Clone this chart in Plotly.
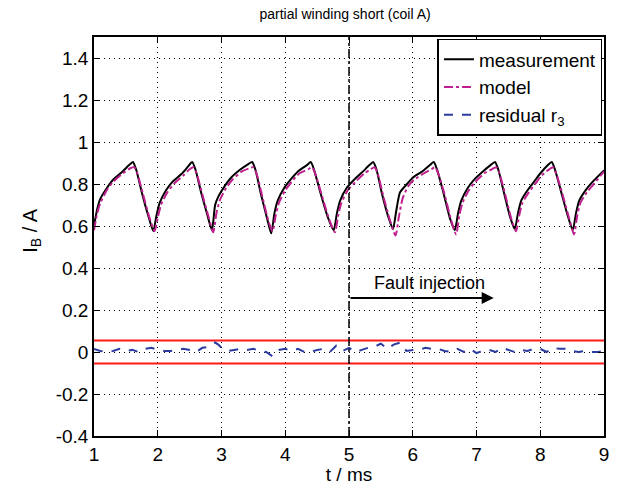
import plotly.graph_objects as go

# Measurement (black)
t_meas = [1.00,1.05,1.10,1.20,1.30,1.45,1.55,1.61,1.66,1.75,1.85,1.93,
          1.98,2.03,2.13,2.23,2.38,2.48,2.54,2.59,2.68,2.78,2.85,
          2.90,2.95,3.05,3.15,3.30,3.42,3.48,3.53,3.62,3.72,3.78,
          3.83,3.88,3.98,4.08,4.20,4.34,4.40,4.45,4.55,4.67,4.76,
          4.81,4.86,4.96,5.08,5.22,5.32,5.38,5.43,5.52,5.62,5.69,
          5.74,5.80,5.91,6.00,6.15,6.27,6.33,6.38,6.48,6.58,6.66,
          6.71,6.76,6.86,6.96,7.10,7.22,7.29,7.34,7.43,7.53,7.60,
          7.65,7.70,7.80,7.90,8.00,8.12,8.18,8.23,8.33,8.43,8.51,
          8.56,8.61,8.71,8.82,9.00]
i_meas = [0.60,0.68,0.73,0.78,0.82,0.86,0.89,0.905,0.87,0.76,0.65,0.575,
          0.65,0.71,0.77,0.81,0.85,0.885,0.905,0.87,0.76,0.65,0.58,
          0.70,0.74,0.79,0.83,0.87,0.895,0.905,0.87,0.75,0.63,0.565,
          0.66,0.72,0.78,0.82,0.86,0.89,0.905,0.87,0.76,0.64,0.58,
          0.66,0.72,0.78,0.82,0.86,0.89,0.905,0.87,0.75,0.64,0.585,
          0.67,0.76,0.80,0.83,0.86,0.89,0.905,0.87,0.76,0.64,0.58,
          0.66,0.72,0.78,0.82,0.86,0.89,0.905,0.87,0.76,0.64,0.585,
          0.66,0.72,0.77,0.81,0.85,0.89,0.905,0.87,0.76,0.65,0.58,
          0.66,0.72,0.77,0.81,0.865]

# Model (magenta)
t_model = [1.00,1.05,1.10,1.20,1.30,1.45,1.57,1.63,1.68,1.77,1.87,1.95,
           2.00,2.05,2.15,2.25,2.40,2.50,2.56,2.61,2.70,2.80,2.87,
           2.92,2.97,3.07,3.17,3.32,3.44,3.50,3.55,3.64,3.74,3.80,
           3.85,3.90,4.00,4.10,4.22,4.36,4.42,4.47,4.57,4.69,4.78,
           4.83,4.88,4.98,5.10,5.24,5.34,5.40,5.45,5.54,5.64,5.73,
           5.78,5.84,5.93,6.02,6.17,6.29,6.35,6.40,6.50,6.60,6.68,
           6.73,6.78,6.88,6.98,7.12,7.24,7.31,7.36,7.45,7.55,7.62,
           7.67,7.72,7.82,7.92,8.02,8.14,8.20,8.25,8.35,8.45,8.53,
           8.58,8.63,8.73,8.84,9.00]
i_model = [0.58,0.66,0.71,0.77,0.81,0.85,0.875,0.88,0.85,0.75,0.64,0.575,
           0.64,0.70,0.76,0.80,0.84,0.87,0.88,0.85,0.75,0.64,0.57,
           0.66,0.72,0.78,0.82,0.86,0.875,0.88,0.85,0.74,0.62,0.575,
           0.65,0.71,0.77,0.81,0.85,0.87,0.88,0.85,0.75,0.63,0.57,
           0.65,0.71,0.77,0.81,0.85,0.87,0.88,0.85,0.74,0.63,0.555,
           0.64,0.73,0.79,0.82,0.85,0.87,0.88,0.85,0.75,0.63,0.56,
           0.65,0.71,0.77,0.81,0.85,0.87,0.88,0.85,0.75,0.63,0.575,
           0.65,0.71,0.76,0.80,0.84,0.87,0.88,0.85,0.75,0.64,0.56,
           0.65,0.71,0.76,0.80,0.86]

# Residual r3 (blue)
t_res = [1.0,1.1,1.2,1.3,1.4,1.5,1.6,1.7,1.8,1.9,2.0,2.1,2.2,2.3,2.4,2.5,2.6,2.7,2.8,
         2.9,2.95,3.0,3.1,3.2,3.3,3.4,3.5,3.6,3.7,3.8,3.9,4.0,4.1,4.2,4.3,4.4,4.5,4.6,
         4.7,4.8,4.9,5.0,5.1,5.2,5.3,5.4,5.5,5.6,5.7,5.8,5.9,6.0,6.1,6.2,6.3,6.4,6.5,
         6.6,6.7,6.8,6.9,7.0,7.1,7.2,7.3,7.4,7.5,7.6,7.7,7.8,7.9,8.0,8.1,8.2,8.3,8.4,
         8.5,8.6,8.7,8.8,8.9,9.0]
r_res = [0.015,0.005,0.0,0.005,0.015,0.005,0.01,0.0,0.015,0.02,0.01,0.005,0.005,0.01,0.015,
         0.01,0.0,0.02,0.025,0.045,0.035,0.02,0.005,0.01,0.015,0.01,0.015,0.005,0.0,-0.02,
         0.01,0.015,0.005,0.015,0.0,0.0,0.01,0.015,0.0,0.03,0.005,0.02,0.0,0.01,0.02,0.025,
         0.04,0.015,0.035,0.045,0.005,0.01,0.01,0.02,0.015,0.015,0.005,0.0,0.015,0.0,0.015,
         -0.005,0.005,0.01,0.0,0.02,0.01,0.0,0.01,0.005,0.015,0.015,0.0,0.02,0.015,0.015,
         0.005,0.0,0.005,0.0,0.0,0.005]

thr_x = [1, 9]
thr_hi = [0.055, 0.055]
thr_lo = [-0.055, -0.055]

fault_t = 5.0
arrow_end_t = 7.27
arrow_y = 0.257

fig = go.Figure()
fig.add_trace(go.Scatter(x=thr_x, y=thr_hi, mode="lines", line=dict(color="#ff1a1a", width=2), showlegend=False))
fig.add_trace(go.Scatter(x=thr_x, y=thr_lo, mode="lines", line=dict(color="#ff1a1a", width=2), showlegend=False))
fig.add_trace(go.Scatter(x=t_meas, y=i_meas, mode="lines", name="measurement",
                         line=dict(color="black", width=2, shape="spline", smoothing=0.6)))
fig.add_trace(go.Scatter(x=t_model, y=i_model, mode="lines", name="model",
                         line=dict(color="#c0208f", width=2, dash="dashdot", shape="spline", smoothing=0.6)))
fig.add_trace(go.Scatter(x=t_res, y=r_res, mode="lines", name="residual r<sub>3</sub>",
                         line=dict(color="#2b3b9e", width=2, dash="dash")))

fig.add_shape(type="line", x0=fault_t, x1=fault_t, y0=-0.4, y1=1.5, xref="x", yref="y",
              line=dict(color="black", width=1.5, dash="dashdot"))
fig.add_annotation(x=arrow_end_t, y=arrow_y, ax=fault_t, ay=arrow_y, xref="x", yref="y",
                   axref="x", ayref="y", showarrow=True, arrowhead=2, arrowsize=1.2,
                   arrowwidth=2, arrowcolor="black", text="")
fig.add_annotation(x=6.27, y=0.33, xref="x", yref="y", text="Fault injection", showarrow=False,
                   font=dict(size=18, color="black"))
# y-axis label
fig.add_annotation(x=-0.123, y=0.515, xref="paper", yref="paper", text="I<sub>B</sub> / A",
                   textangle=-90, showarrow=False, xanchor="center", yanchor="middle",
                   font=dict(size=20, color="black"))

axis_common = dict(showline=True, linecolor="black", linewidth=1.5, mirror="ticks",
                   ticks="inside", ticklen=6, tickcolor="black", automargin=False,
                   showgrid=True, gridcolor="black", gridwidth=1, griddash="1px,4px",
                   zeroline=False, tickfont=dict(size=19, color="black"))
fig.update_xaxes(range=[1, 9], tickvals=[1,2,3,4,5,6,7,8,9],
                 title=dict(text="t / ms", font=dict(size=19, color="black"), standoff=0),
                 **axis_common)
fig.update_yaxes(range=[-0.4, 1.5], tickvals=[-0.4,-0.2,0,0.2,0.4,0.6,0.8,1,1.2,1.4],
                 ticktext=["-0.4","-0.2","0","0.2","0.4","0.6","0.8","1","1.2","1.4"],
                 **axis_common)

fig.update_layout(
    width=624, height=485,
    margin=dict(l=94, r=20, t=37, b=49),
    paper_bgcolor="white", plot_bgcolor="white",
    font=dict(family="Liberation Sans, Arial, sans-serif", color="black"),
    title=dict(text="partial winding short (coil A)", x=0.553, xanchor="center", y=0.97, yanchor="middle",
               font=dict(size=14, color="black")),
    legend=dict(x=0.997, y=0.995, xanchor="right", yanchor="top", bgcolor="white",
                bordercolor="black", borderwidth=1.5, font=dict(size=19, color="black"),
                tracegroupgap=0, itemwidth=30),
    showlegend=True,
)

fig.write_html("out.html")
